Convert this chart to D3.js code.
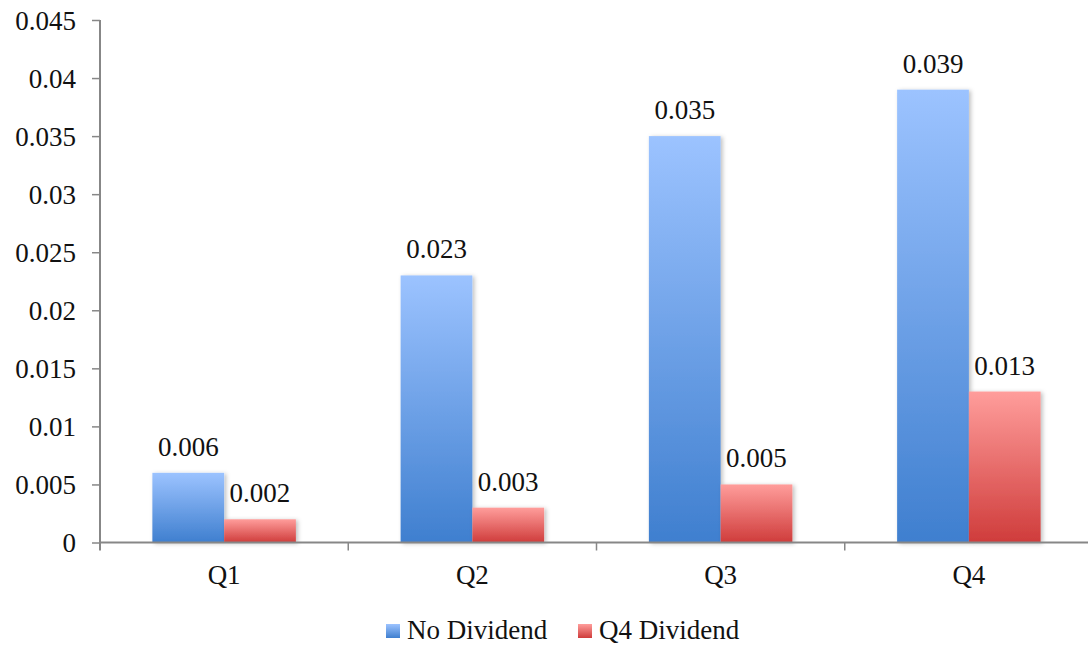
<!DOCTYPE html>
<html>
<head>
<meta charset="utf-8">
<script src="https://cdn.jsdelivr.net/npm/d3@7"></script>
<style>
  html, body { margin: 0; padding: 0; background: #fff; }
  svg { display: block; }
  text { font-family: "Liberation Serif", "Times New Roman", serif; fill: #111; }
</style>
</head>
<body>
<svg id="chart" width="1088" height="648"></svg>
<script>
// Chart data
const categories = ["Q1", "Q2", "Q3", "Q4"];
const seriesNames = ["No Dividend", "Q4 Dividend"];
const noDividend = [0.006, 0.023, 0.035, 0.039];
const q4Dividend = [0.002, 0.003, 0.005, 0.013];
const yTicks = [0, 0.005, 0.01, 0.015, 0.02, 0.025, 0.03, 0.035, 0.04, 0.045];
const yTickLabels = ["0", "0.005", "0.01", "0.015", "0.02", "0.025", "0.03", "0.035", "0.04", "0.045"];

const seriesValues = [noDividend, q4Dividend];
const rows = categories.map((c, i) => ({
  cat: c,
  vals: seriesNames.map((s, j) => ({ series: s, idx: j, value: seriesValues[j][i] }))
}));

const svg = d3.select("#chart");
const fontSize = 27;
const axisColor = "#878787";

const margin = { left: 100, right: -5, top: 20, bottom: 105.5 };
const W = 1088, H = 648;

const x = d3.scaleBand().domain(categories).range([margin.left, W - margin.right]).paddingInner(0).paddingOuter(0);
const xInner = d3.scaleBand().domain(seriesNames).range([0, x.bandwidth()]).paddingOuter(0.73).paddingInner(0);
const y = d3.scaleLinear().domain([0, 0.045]).range([H - margin.bottom, margin.top]);

// Gradients per series
const defs = svg.append("defs");
const grads = [
  { id: "gBlue", top: "#9cc3ff", bottom: "#3f7fcf" },
  { id: "gRed", top: "#ff9d9b", bottom: "#cf3c3b" }
];
grads.forEach(g => {
  const lg = defs.append("linearGradient").attr("id", g.id)
    .attr("x1", 0).attr("y1", 0).attr("x2", 0).attr("y2", 1);
  lg.append("stop").attr("offset", "0%").attr("stop-color", g.top);
  lg.append("stop").attr("offset", "100%").attr("stop-color", g.bottom);
});
const shadow = defs.append("filter").attr("id", "shadow")
  .attr("x", "-10%").attr("y", "-10%").attr("width", "130%").attr("height", "130%");
shadow.append("feDropShadow").attr("dx", 2).attr("dy", 1).attr("stdDeviation", 2)
  .attr("flood-color", "#000").attr("flood-opacity", 0.25);

// Bars
const groups = svg.append("g").selectAll("g").data(rows).join("g")
  .attr("transform", d => `translate(${x(d.cat)},0)`);

groups.selectAll("rect").data(d => d.vals).join("rect")
  .attr("x", d => xInner(d.series))
  .attr("y", d => y(d.value))
  .attr("width", xInner.bandwidth())
  .attr("height", d => y(0) - y(d.value))
  .attr("fill", d => `url(#${grads[d.idx].id})`)
  .attr("filter", "url(#shadow)");

// Value labels
groups.selectAll("text.val").data(d => d.vals).join("text")
  .attr("class", "val")
  .attr("x", d => xInner(d.series) + xInner.bandwidth() / 2)
  .attr("y", d => y(d.value) - 17)
  .attr("text-anchor", "middle")
  .attr("font-size", fontSize)
  .text(d => d.value.toString());

// Y axis
const yAxis = d3.axisLeft(y).tickValues(yTicks).tickSize(8).tickPadding(16)
  .tickFormat((d, i) => yTickLabels[i]);
const gy = svg.append("g").attr("transform", `translate(${margin.left},0)`).call(yAxis);
gy.select(".domain").attr("stroke", axisColor).attr("stroke-width", 2).attr("d", `M0,${y(0.045)}V${y(0) + 8}`);
gy.selectAll(".tick line").attr("stroke", axisColor).attr("stroke-width", 1.5);
gy.selectAll(".tick text").attr("font-size", fontSize).attr("font-family", null).attr("fill", "#111").attr("dy", "0.35em");

// X axis
const gx = svg.append("g").attr("transform", `translate(0,${y(0)})`);
gx.append("line").attr("x1", margin.left).attr("x2", W)
  .attr("stroke", axisColor).attr("stroke-width", 2);
const boundaries = categories.map(c => x(c)).concat([x(categories[categories.length - 1]) + x.bandwidth()]);
gx.selectAll("line.tk").data(boundaries.slice(1)).join("line").attr("class", "tk")
  .attr("x1", d => d).attr("x2", d => d).attr("y1", 0).attr("y2", 8)
  .attr("stroke", axisColor).attr("stroke-width", 1.5);
gx.selectAll("text").data(categories).join("text")
  .attr("x", d => x(d) + x.bandwidth() / 2)
  .attr("y", 41)
  .attr("text-anchor", "middle")
  .attr("font-size", fontSize)
  .text(d => d);

// Legend
const legend = svg.append("g");
const legendItems = [
  { name: seriesNames[0], grad: "gBlue", x: 386 },
  { name: seriesNames[1], grad: "gRed", x: 578 }
];
legendItems.forEach(it => {
  legend.append("rect").attr("x", it.x).attr("y", 624).attr("width", 14).attr("height", 14)
    .attr("fill", `url(#${it.grad})`);
  legend.append("text").attr("x", it.x + 21).attr("y", 639).attr("font-size", fontSize).text(it.name);
});
</script>
</body>
</html>
